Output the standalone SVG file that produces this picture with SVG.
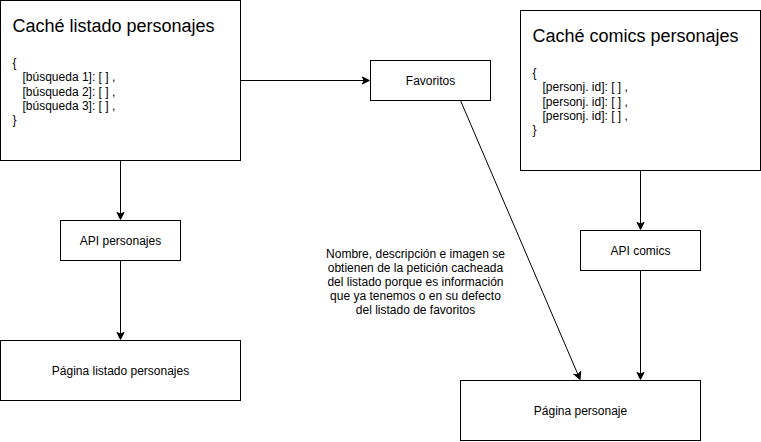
<svg xmlns="http://www.w3.org/2000/svg" width="761" height="442" viewBox="0 0 761 442">
<style>
.box{fill:#fff;stroke:#000;stroke-width:1}
.edge{fill:none;stroke:#000;stroke-width:1}
text{font-family:"Liberation Sans",Arial,Helvetica,sans-serif;fill:#000}
.t12{font-size:12px}
.t18{font-size:18px}
.c{text-anchor:middle}
</style>
<defs>
<marker id="arr" markerUnits="userSpaceOnUse" orient="auto" refX="0" refY="0" markerWidth="20" markerHeight="20" overflow="visible">
<path d="M5.25,0 L-1.75,-3.5 L0,0 L-1.75,3.5 Z" fill="#000" stroke="#000" stroke-width="1"/>
</marker>
</defs>
<rect width="761" height="442" fill="#fff"/>
<g transform="translate(0.5,0.5)">
<g id="connectors">
<path class="edge" d="M240,80 L363.63,80" marker-end="url(#arr)"/>
<path class="edge" d="M120,160 L120,213.63" marker-end="url(#arr)"/>
<path class="edge" d="M120,260 L120,333.63" marker-end="url(#arr)"/>
<path class="edge" d="M640,170 L640,223.63" marker-end="url(#arr)"/>
<path class="edge" d="M640,270 L640,373.63" marker-end="url(#arr)"/>
<path class="edge" d="M460,100 L577.49,374.15" marker-end="url(#arr)"/>
</g>
<g id="cache-listado">
<rect class="box" x="0" y="0" width="240" height="160"/>
<text class="t18" x="12" y="31">Caché listado personajes</text>
<text class="t12" x="12" y="66.2">{</text>
<text class="t12" x="22" y="80.6">[búsqueda 1]: [ ] ,</text>
<text class="t12" x="22" y="95">[búsqueda 2]: [ ] ,</text>
<text class="t12" x="22" y="109.4">[búsqueda 3]: [ ] ,</text>
<text class="t12" x="12" y="123.8">}</text>
</g>
<g id="cache-comics">
<rect class="box" x="520" y="10" width="240" height="160"/>
<text class="t18" x="532" y="41">Caché comics personajes</text>
<text class="t12" x="532" y="76.2">{</text>
<text class="t12" x="542" y="90.6">[personj. id]: [ ] ,</text>
<text class="t12" x="542" y="105">[personj. id]: [ ] ,</text>
<text class="t12" x="542" y="119.4">[personj. id]: [ ] ,</text>
<text class="t12" x="532" y="133.8">}</text>
</g>
<g id="favoritos">
<rect class="box" x="370" y="60" width="120" height="40"/>
<text class="t12 c" x="430" y="84">Favoritos</text>
</g>
<g id="api-personajes">
<rect class="box" x="60" y="220" width="120" height="40"/>
<text class="t12 c" x="120" y="244">API personajes</text>
</g>
<g id="pagina-listado">
<rect class="box" x="0" y="340" width="240" height="60"/>
<text class="t12 c" x="120" y="374">Página listado personajes</text>
</g>
<g id="api-comics">
<rect class="box" x="580" y="230" width="120" height="40"/>
<text class="t12 c" x="640" y="254">API comics</text>
</g>
<g id="pagina-personaje">
<rect class="box" x="460" y="380" width="240" height="60"/>
<text class="t12 c" x="580" y="414">Página personaje</text>
</g>
<g id="nota">
<text class="t12 c" x="415" y="257">Nombre, descripción e imagen se</text>
<text class="t12 c" x="415" y="271.2">obtienen de la petición cacheada</text>
<text class="t12 c" x="415" y="285.4">del listado porque es información</text>
<text class="t12 c" x="415" y="299.6">que ya tenemos o en su defecto</text>
<text class="t12 c" x="415" y="313.8">del listado de favoritos</text>
</g>
</g>
</svg>
